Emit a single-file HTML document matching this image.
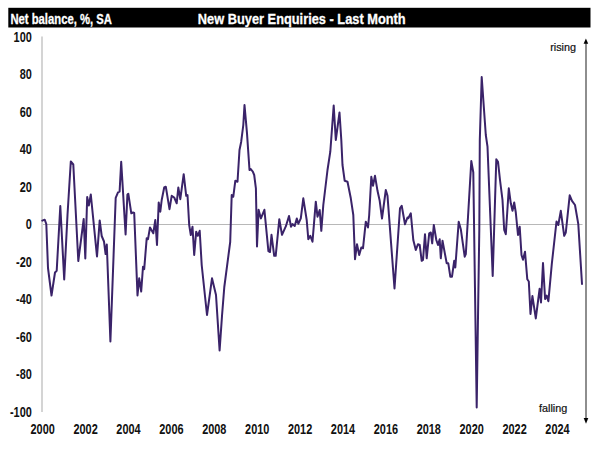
<!DOCTYPE html>
<html><head><meta charset="utf-8"><style>
html,body{margin:0;padding:0;background:#fff;}
svg{display:block;}
text{font-family:"Liberation Sans",sans-serif;}
</style></head><body>
<svg width="600" height="449" viewBox="0 0 600 449">
<rect x="0" y="0" width="600" height="449" fill="#fff"/>
<rect x="8.3" y="7.8" width="582.2" height="19.7" fill="#000"/>
<g fill="#fff" font-weight="bold" stroke="#fff" stroke-width="0.3">
<text x="10.4" y="23.8" font-size="14.5" transform="translate(10.4 0) scale(0.778 1) translate(-10.4 0)">Net balance, %, SA</text>
<text x="197.8" y="23.8" font-size="15.4" transform="translate(197.8 0) scale(0.833 1) translate(-197.8 0)">New Buyer Enquiries - Last Month</text>
</g>
<line x1="42" y1="36.5" x2="42" y2="412" stroke="#d4d4d4" stroke-width="2"/>
<line x1="43" y1="224.5" x2="582.5" y2="224.5" stroke="#b8b8b8" stroke-width="1.2"/>
<line x1="586" y1="43" x2="586" y2="418.3" stroke="#8e8e8e" stroke-width="2"/>
<path d="M583.6 43.8 L588.2 43.8 L585.9 38.4 Z" fill="#000"/>
<path d="M583.7 418.1 L588.3 418.1 L586 423.7 Z" fill="#000"/>
<g fill="#111" font-size="10.8" stroke="#111" stroke-width="0.2">
<text x="550.2" y="50.5">rising</text>
<text x="539" y="412.4">falling</text>
</g>
<g fill="#111" font-weight="bold" font-size="14">
<text x="31.8" y="42.0" text-anchor="end" transform="translate(31.8 0) scale(0.78 1) translate(-31.8 0)">100</text>
<text x="31.8" y="79.5" text-anchor="end" transform="translate(31.8 0) scale(0.78 1) translate(-31.8 0)">80</text>
<text x="31.8" y="116.9" text-anchor="end" transform="translate(31.8 0) scale(0.78 1) translate(-31.8 0)">60</text>
<text x="31.8" y="154.4" text-anchor="end" transform="translate(31.8 0) scale(0.78 1) translate(-31.8 0)">40</text>
<text x="31.8" y="191.8" text-anchor="end" transform="translate(31.8 0) scale(0.78 1) translate(-31.8 0)">20</text>
<text x="31.8" y="229.3" text-anchor="end" transform="translate(31.8 0) scale(0.78 1) translate(-31.8 0)">0</text>
<text x="31.8" y="266.8" text-anchor="end" transform="translate(31.8 0) scale(0.78 1) translate(-31.8 0)">-20</text>
<text x="31.8" y="304.2" text-anchor="end" transform="translate(31.8 0) scale(0.78 1) translate(-31.8 0)">-40</text>
<text x="31.8" y="341.7" text-anchor="end" transform="translate(31.8 0) scale(0.78 1) translate(-31.8 0)">-60</text>
<text x="31.8" y="379.1" text-anchor="end" transform="translate(31.8 0) scale(0.78 1) translate(-31.8 0)">-80</text>
<text x="31.8" y="416.6" text-anchor="end" transform="translate(31.8 0) scale(0.78 1) translate(-31.8 0)">-100</text>
<text x="42.7" y="433.8" text-anchor="middle" transform="translate(42.7 0) scale(0.78 1) translate(-42.7 0)">2000</text>
<text x="85.6" y="433.8" text-anchor="middle" transform="translate(85.6 0) scale(0.78 1) translate(-85.6 0)">2002</text>
<text x="128.5" y="433.8" text-anchor="middle" transform="translate(128.5 0) scale(0.78 1) translate(-128.5 0)">2004</text>
<text x="171.4" y="433.8" text-anchor="middle" transform="translate(171.4 0) scale(0.78 1) translate(-171.4 0)">2006</text>
<text x="214.3" y="433.8" text-anchor="middle" transform="translate(214.3 0) scale(0.78 1) translate(-214.3 0)">2008</text>
<text x="257.2" y="433.8" text-anchor="middle" transform="translate(257.2 0) scale(0.78 1) translate(-257.2 0)">2010</text>
<text x="300.1" y="433.8" text-anchor="middle" transform="translate(300.1 0) scale(0.78 1) translate(-300.1 0)">2012</text>
<text x="343.0" y="433.8" text-anchor="middle" transform="translate(343.0 0) scale(0.78 1) translate(-343.0 0)">2014</text>
<text x="385.9" y="433.8" text-anchor="middle" transform="translate(385.9 0) scale(0.78 1) translate(-385.9 0)">2016</text>
<text x="428.8" y="433.8" text-anchor="middle" transform="translate(428.8 0) scale(0.78 1) translate(-428.8 0)">2018</text>
<text x="471.7" y="433.8" text-anchor="middle" transform="translate(471.7 0) scale(0.78 1) translate(-471.7 0)">2020</text>
<text x="514.6" y="433.8" text-anchor="middle" transform="translate(514.6 0) scale(0.78 1) translate(-514.6 0)">2022</text>
<text x="557.5" y="433.8" text-anchor="middle" transform="translate(557.5 0) scale(0.78 1) translate(-557.5 0)">2024</text>
</g>
<polyline points="42.3,220.7 44.7,219.7 46.3,224 48,268 51.5,295.5 55,272.5 56.7,270.8 60.3,206 64.2,279.5 67.5,215 70.8,161.5 73.3,164.5 78.3,261 83.7,219 85.3,258.5 87.2,197 88.8,205.5 90.8,194.5 97,256.5 99.7,220.4 101.7,236 104,241.5 105.6,254 106.8,244.6 110.4,341.5 115.7,197.8 118,192.3 119.6,191.6 121.2,161.7 125.6,234.5 127.4,194.7 128.3,193.7 131.3,213.3 133,212.5 134.2,213 137.5,295.5 139.2,278.3 141.2,291.5 143,266.7 144.2,269.2 146.7,238.3 148,239.2 150,227.5 153.3,233.3 155.3,220 157,245 158.7,202.5 160.3,211.7 161.7,200 164.2,187.5 165.8,186.7 169.5,209.2 171.7,195.8 174.2,197.5 176.7,203.3 178.3,187.5 180.3,199.2 183.7,174.2 186.2,195.8 187.5,195 189.2,225 190.8,235 192.5,226.7 194.2,255 196.2,231.7 197.8,235.8 199.7,230.8 201.7,265 207,315 212,278.3 216,295 219.6,350.5 222,316 224.3,287 230.2,242 231.7,195 233.3,196.7 235.3,180.8 237.5,181.7 239.5,150 241.2,141.7 243.3,125 244.5,105 247,133.3 249.5,170 250.7,169 252.8,171.7 254.2,175 255.9,188.3 257,246.5 258.6,209.8 260.9,218.4 264.4,209.8 268.4,251.2 270,252 271.5,234.8 274.2,255.8 275.7,255.8 279.3,219.2 282,234.8 285.9,226.2 289,216 291,226.7 292.5,224 294.7,226 296.8,218.5 298.3,223.8 300.8,218.3 303.3,198.3 306.7,220 308.3,239.2 310.3,235.8 312.5,241.7 315.8,201.7 317.5,216.7 319.7,210 321.3,230.8 323.3,205 327.5,170 330.3,151.7 333.7,105.5 335.8,140 339.5,112.5 341.3,140 342.5,165 344.7,180.8 347.5,181.7 350.8,198.3 353.3,215 355,259.2 357,244.2 359.2,255 361.3,247.5 363,248.3 365.8,221.7 368,227.5 369.2,215 371.3,176.7 373,185.8 375,175.8 377.5,190.8 379.7,200.8 382,218.5 385.8,190 387.5,195.8 394.5,288.5 400,208.3 401.7,205.8 405,224.2 407.5,217.5 408.3,218.3 410.8,213.3 413.3,240 415.8,250 418,244.2 419.7,245 421.7,260.8 423,260 425,234.2 426.7,258.3 429.2,233.3 430.8,232.5 432.2,243.3 433.8,225 436.3,240 438,245 439.7,239.2 440.8,258.3 442.5,240.8 446.7,263.3 448.3,263.3 450.3,276.7 452,276.7 454.2,260.8 455.3,267.5 458.7,221.7 460.8,229.2 464.7,256.7 465.8,254.2 471.3,161 473.3,172.5 476.7,407.5 478.1,310 479.3,230 479.8,140 481.7,77 485.8,135 487.5,146.7 492.7,276 496.3,159.2 498,161.7 500,180 502.5,200 504.2,230 505.8,234.2 508.8,188.3 510.8,203.3 512.5,210.8 514.2,202.5 515.8,212.5 518,235 519.7,226.7 521.5,255 523,259.8 525,251.7 527.3,279.3 528.8,281.5 530.5,314 532.4,296 535.8,318.4 539.6,288.8 541,302.5 543,263 545.1,299 546.7,295.6 548.4,301.2 551.8,264 556.5,221.5 558.3,225 560.8,210.8 564.2,235.8 565.8,232.5 569.7,195.3 572,200.8 575,205 578.3,224.2 582,284" fill="none" stroke="#3a2369" stroke-width="2" stroke-linejoin="round" stroke-linecap="round"/>
</svg>
</body></html>
